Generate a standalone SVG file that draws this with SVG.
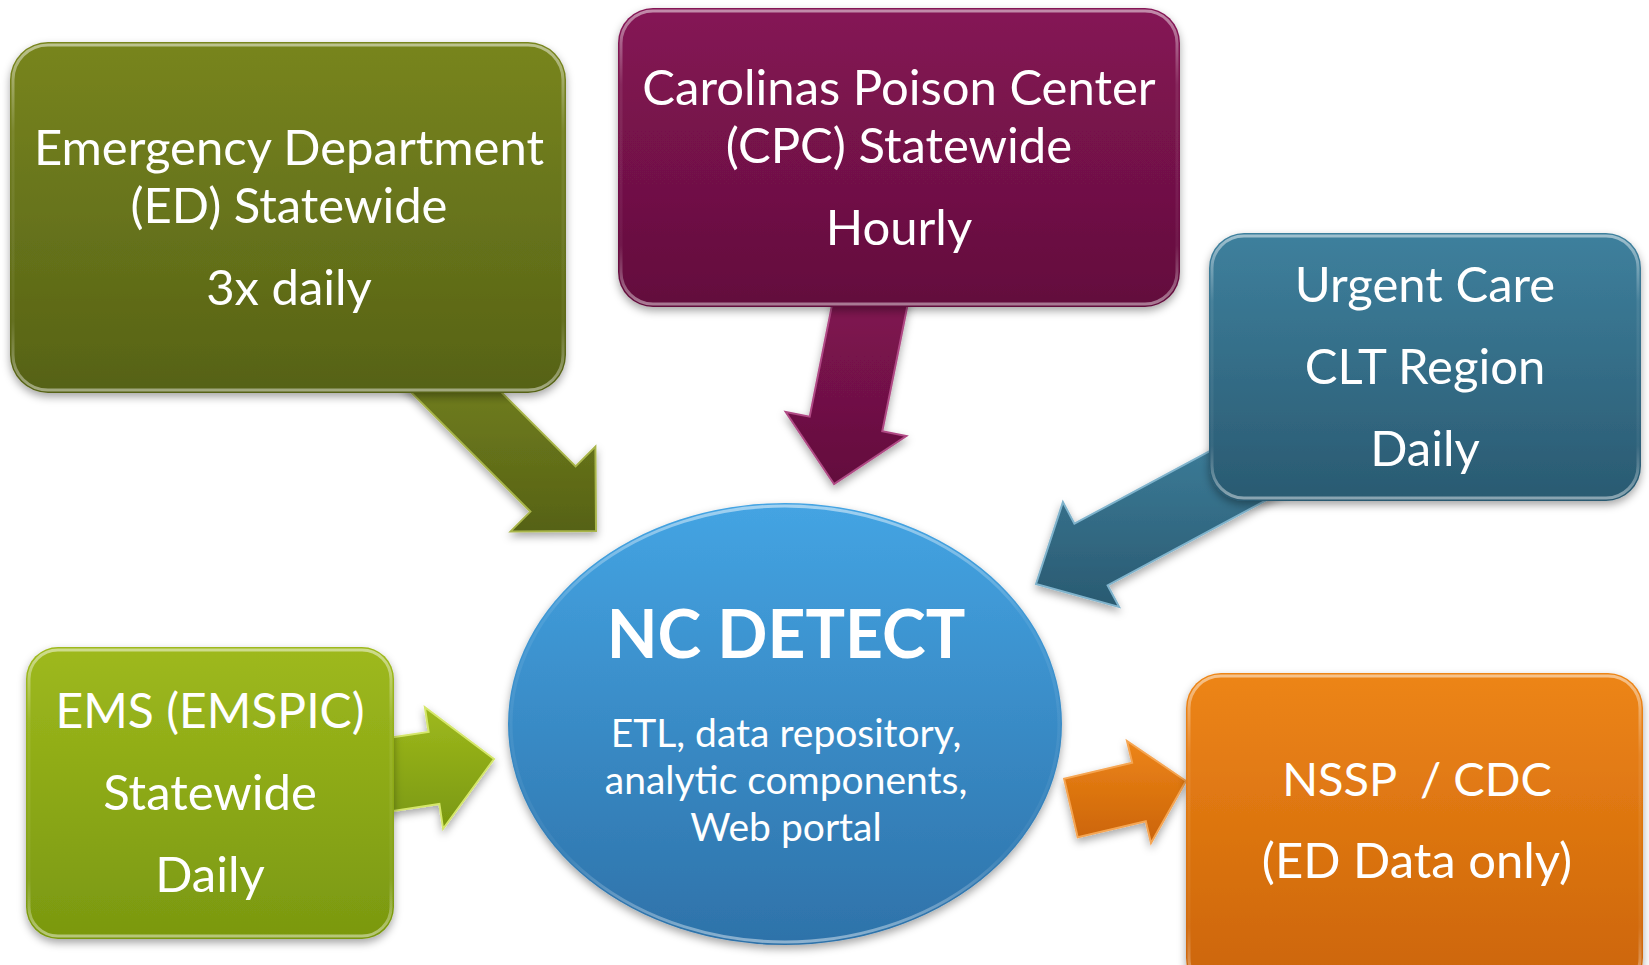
<svg xmlns="http://www.w3.org/2000/svg" width="1649" height="965" viewBox="0 0 1649 965">
<style>
.t{font-family:Lato,'Open Sans','Liberation Sans',sans-serif;fill:#ffffff;text-anchor:middle;font-size:49px}
.big{font-weight:bold;font-size:66px}
.sub{font-size:39px}
.hl{fill:none;stroke:url(#gHl);stroke-width:3}
.ar{stroke-width:2;stroke-linejoin:miter}
</style>
<defs>
<filter id="sh" x="-10%" y="-10%" width="120%" height="125%">
<feDropShadow dx="0" dy="4" stdDeviation="4" flood-color="#000" flood-opacity="0.35"/>
</filter>
<linearGradient id="gHl" x1="0" y1="0" x2="0" y2="1"><stop offset="0" stop-color="#fff" stop-opacity="0.5"/><stop offset="0.25" stop-color="#fff" stop-opacity="0.08"/><stop offset="0.8" stop-color="#fff" stop-opacity="0.05"/><stop offset="1" stop-color="#fff" stop-opacity="0.45"/></linearGradient>
<linearGradient id="gOl" x1="0" y1="0" x2="0" y2="1"><stop offset="0" stop-color="#78851f"/><stop offset="1" stop-color="#566216"/></linearGradient>
<linearGradient id="gMg" x1="0" y1="0" x2="0" y2="1"><stop offset="0" stop-color="#851455"/><stop offset="1" stop-color="#630f3d"/></linearGradient>
<linearGradient id="gTl" x1="0" y1="0" x2="0" y2="1"><stop offset="0" stop-color="#3e809d"/><stop offset="1" stop-color="#2a5a71"/></linearGradient>
<linearGradient id="gGr" x1="0" y1="0" x2="0" y2="1"><stop offset="0" stop-color="#9eb91d"/><stop offset="1" stop-color="#7a9810"/></linearGradient>
<linearGradient id="gOr" x1="0" y1="0" x2="0" y2="1"><stop offset="0" stop-color="#ed8518"/><stop offset="1" stop-color="#cb6408"/></linearGradient>
<linearGradient id="gBl" x1="0" y1="0" x2="0" y2="1"><stop offset="0" stop-color="#44a4e3"/><stop offset="1" stop-color="#2e72a9"/></linearGradient>
</defs>

<g id="connectors" filter="url(#sh)">
<polygon id="arrow-ed" class="ar" fill="url(#gOl)" stroke="#a8b54a" points="596,531 510.6,531.4 530.4,511.6 403.4,384.6 448.6,339.4 575.6,466.4 595.4,446.6"/>
<polygon id="arrow-cpc" class="ar" fill="url(#gMg)" stroke="#b04a85" points="834,484 785.7,412 809.7,416.7 839.1,269.6 911.7,284.2 882.3,431.3 906.3,436"/>
<polygon id="arrow-uc" class="ar" fill="url(#gTl)" stroke="#7fb3cc" points="1036,584 1062.9,502.1 1074.4,523.7 1268.4,419.7 1301.5,481.3 1107.6,585.3 1119.1,606.9"/>
<polygon id="arrow-ems" class="ar" fill="url(#gGr)" stroke="#d4e66a" points="494,759 424.9,707.2 428.6,732 349.6,743.7 360.4,815.9 439.4,804 443.1,828.8"/>
<polygon id="arrow-nssp" class="ar" fill="url(#gOr)" stroke="#f5a552" points="1186,781 1127,740.9 1132.2,762.8 1064.1,778.8 1077.7,837.2 1145.8,821.2 1151,843.1"/>
</g>

<g id="node-ed">
<rect x="10" y="42" width="556" height="351" rx="38" fill="url(#gOl)" filter="url(#sh)"/>
<rect x="13" y="45" width="550" height="345" rx="35" class="hl"/>
<text class="t" x="289" y="165">Emergency Department</text>
<text class="t" x="289" y="223">(ED) Statewide</text>
<text class="t" x="289" y="305">3x daily</text>
</g>

<g id="node-cpc">
<rect x="618" y="8" width="562" height="299" rx="35" fill="url(#gMg)" filter="url(#sh)"/>
<rect x="621" y="11" width="556" height="293" rx="32" class="hl"/>
<text class="t" x="899" y="105">Carolinas Poison Center</text>
<text class="t" x="899" y="163">(CPC) Statewide</text>
<text class="t" x="899" y="245">Hourly</text>
</g>

<g id="node-uc">
<rect x="1209" y="233" width="432" height="268" rx="35" fill="url(#gTl)" filter="url(#sh)"/>
<rect x="1212" y="236" width="426" height="262" rx="32" class="hl"/>
<text class="t" x="1425" y="302">Urgent Care</text>
<text class="t" x="1425" y="384">CLT Region</text>
<text class="t" x="1425" y="466">Daily</text>
</g>

<g id="node-ems">
<rect x="26" y="647" width="368" height="292" rx="32" fill="url(#gGr)" filter="url(#sh)"/>
<rect x="29" y="650" width="362" height="286" rx="29" class="hl"/>
<text class="t" x="210" y="728" style="font-size:48px">EMS (EMSPIC)</text>
<text class="t" x="210" y="810">Statewide</text>
<text class="t" x="210" y="892">Daily</text>
</g>

<g id="node-nssp">
<rect x="1186" y="673" width="457" height="320" rx="35" fill="url(#gOr)" filter="url(#sh)"/>
<rect x="1189" y="676" width="451" height="314" rx="32" class="hl"/>
<text class="t" x="1417" y="796" style="font-size:47px" xml:space="preserve">NSSP  / CDC</text>
<text class="t" x="1417" y="878">(ED Data only)</text>
</g>

<g id="node-ncdetect">
<ellipse cx="785" cy="724" rx="277" ry="221" fill="url(#gBl)" filter="url(#sh)"/>
<ellipse cx="785" cy="724" rx="274" ry="218" class="hl"/>
<text class="t big" x="786" y="658">NC DETECT</text>
<text class="t sub" x="786" y="747">ETL, data repository,</text>
<text class="t sub" x="786" y="794">analytic components,</text>
<text class="t sub" x="786" y="841">Web portal</text>
</g>
</svg>
